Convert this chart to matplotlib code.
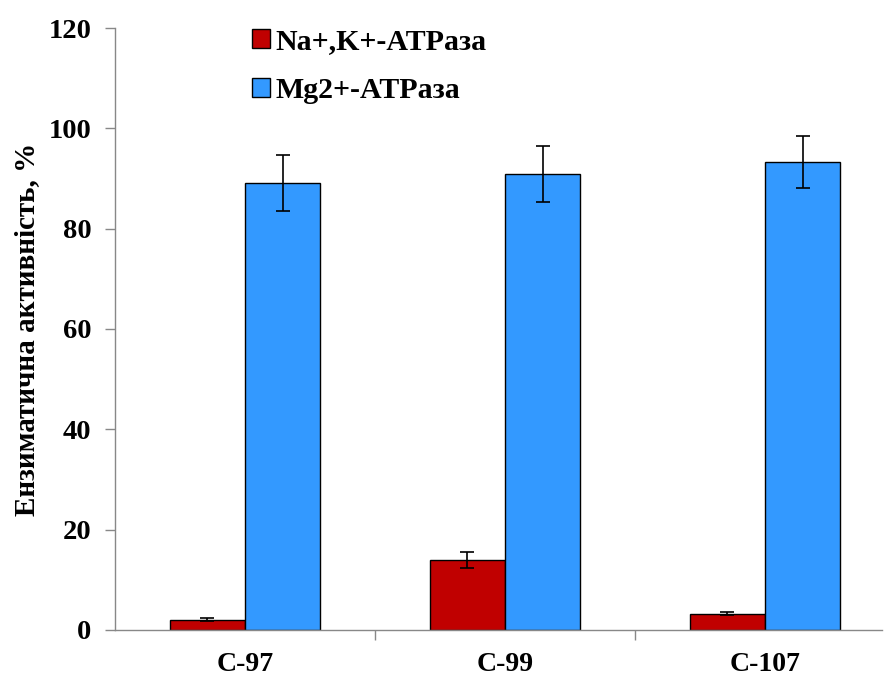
import matplotlib
matplotlib.use("Agg")
import matplotlib.pyplot as plt
import numpy as np

categories = ["С-97", "С-99", "С-107"]
series_names = ["Na+,K+-ATPаза", "Mg2+-ATPаза"]
na_k = [2.0, 14.0, 3.2]
na_k_err = [0.3, 1.6, 0.3]
mg = [89.1, 90.9, 93.3]
mg_err = [5.5, 5.6, 5.2]
yticks = [0, 20, 40, 60, 80, 100, 120]

plt.rcParams['font.family'] = ['Liberation Serif', 'DejaVu Serif']
plt.rcParams['font.weight'] = 'bold'

fig = plt.figure(figsize=(8.86, 6.78), dpi=100)
ax = fig.add_axes([0.1298, 0.0708, 0.8657, 0.8879])

x = np.arange(len(categories))
w = 0.29
err_kw = dict(ecolor='black', elinewidth=1.2, capsize=5, capthick=1.2)
ax.bar(x - w/2, na_k, w, yerr=na_k_err, color='#C00000', edgecolor='black',
       linewidth=1.0, label=series_names[0], error_kw=err_kw, zorder=2)
ax.bar(x + w/2, mg, w, yerr=mg_err, color='#3399FF', edgecolor='black',
       linewidth=1.0, label=series_names[1], error_kw=err_kw, zorder=2)

ax.set_xlim(-0.5, 2.45)
ax.set_ylim(0, 120)
ax.set_yticks(yticks)
ax.set_yticklabels([str(v) for v in yticks], fontsize=20.5, fontweight='bold')
ax.set_xticks(x)
ax.set_xticklabels(categories, fontsize=20, fontweight='bold')
ax.tick_params(axis='x', length=0, pad=16)
ax.set_xticks([0.5, 1.5], minor=True)
ax.tick_params(axis='x', which='minor', length=7, color='#888888', width=1)
ax.tick_params(axis='y', length=7, color='#888888', width=1, direction='out', pad=10)

for s in ['top', 'right']:
    ax.spines[s].set_visible(False)
ax.spines['left'].set_color('#888888')
ax.spines['bottom'].set_color('#888888')
ax.spines['left'].set_linewidth(1.0)
ax.spines['bottom'].set_linewidth(1.0)

ax.set_ylabel("Ензиматична активність, %", fontsize=21, fontweight='bold', labelpad=6)

leg = ax.legend(loc='upper left', bbox_to_anchor=(0.163, 1.02), frameon=False,
                prop={'size': 21.5, 'weight': 'bold'}, handlelength=0.6, handleheight=0.6,
                handletextpad=0.2, labelspacing=0.75, borderaxespad=0)

fig.savefig("out.png", dpi=100)
